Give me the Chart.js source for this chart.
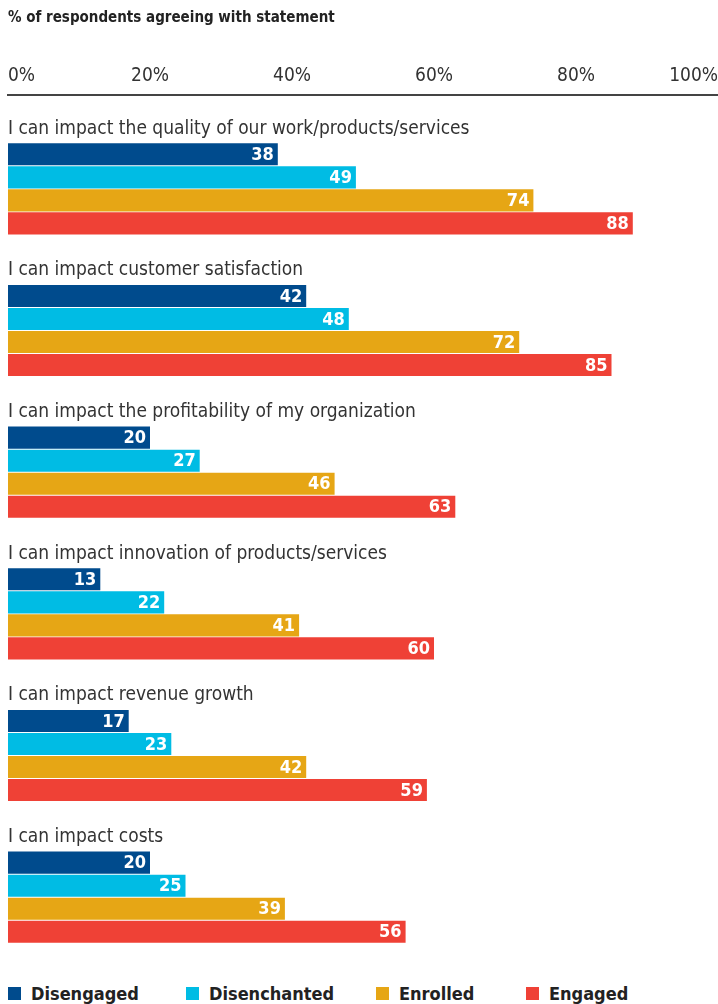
<!DOCTYPE html>
<html>
<head>
<meta charset="utf-8">
<script src="https://cdn.jsdelivr.net/npm/chart.js@4.4.1/dist/chart.umd.min.js"></script>
<style>
  body { margin: 0; background: #fff; width: 718px; height: 1004px; overflow: hidden; }
  #wrap { position: relative; width: 718px; height: 960px; }
  .legend { position: absolute; top: 983px; left: 8px; display: flex; align-items: center;
            font: bold 18px "Liberation Sans Narrow", "DejaVu Sans Condensed", "Roboto Condensed", Roboto, sans-serif; color: #222; }
  .legend span.box { display: inline-block; width: 13px; height: 13px; margin-right: 10px; }
  .legend .item { display: flex; align-items: center; }
</style>
</head>
<body>
<div id="wrap"><canvas id="chart"></canvas></div>
<div class="legend" id="legend"></div>
<script>
const FONT = '"Liberation Sans Narrow", "DejaVu Sans Condensed", "Roboto Condensed", Roboto, sans-serif';

const statements = [
  'I can impact the quality of our work/products/services',
  'I can impact customer satisfaction',
  'I can impact the profitability of my organization',
  'I can impact innovation of products/services',
  'I can impact revenue growth',
  'I can impact costs'
];
const seriesNames = ['Disengaged', 'Disenchanted', 'Enrolled', 'Engaged'];
const seriesColors = ['#004b8d', '#00bce4', '#e6a615', '#ef4136'];
const disengaged = [38, 42, 20, 13, 17, 20];
const disenchanted = [49, 48, 27, 22, 23, 25];
const enrolled = [74, 72, 46, 41, 42, 39];
const engaged = [88, 85, 63, 60, 59, 56];
const tickValues = [0, 20, 40, 60, 80, 100];

const seriesValues = [disengaged, disenchanted, enrolled, engaged];
// legend item widths, so the keys sit where the original has them
const legendWidths = [178, 190, 150, 120];

// two empty slots above each group leave room for the statement text
const spacer = () => ({
  spacer: true,
  data: statements.map(() => null),
  backgroundColor: 'transparent',
  barPercentage: 0.96,
  categoryPercentage: 0.975
});

const datasets = [spacer(), spacer()].concat(seriesValues.map((vals, i) => ({
  label: seriesNames[i],
  data: vals,
  backgroundColor: seriesColors[i],
  barPercentage: 0.96,
  categoryPercentage: 0.975
})));

const barLabels = {
  id: 'barLabels',
  afterDatasetsDraw(chart) {
    const ctx = chart.ctx;
    ctx.save();
    ctx.font = 'bold 18px ' + FONT;
    ctx.fillStyle = '#fff';
    ctx.textAlign = 'right';
    ctx.textBaseline = 'middle';
    chart.data.datasets.forEach((ds, di) => {
      if (ds.spacer) return;
      chart.getDatasetMeta(di).data.forEach((bar, i) => {
        ctx.fillText(ds.data[i], bar.x - 4, bar.y + 1);
      });
    });
    ctx.restore();
  }
};

const groupLabels = {
  id: 'groupLabels',
  afterDraw(chart) {
    const ctx = chart.ctx;
    const y = chart.scales.y;
    ctx.save();
    ctx.font = '19px ' + FONT;
    ctx.fillStyle = '#333';
    ctx.textAlign = 'left';
    ctx.textBaseline = 'middle';
    statements.forEach((s, i) => {
      ctx.fillText(s, chart.chartArea.left, y.getPixelForValue(i) - 37);
    });
    ctx.restore();
  }
};

new Chart(document.getElementById('chart'), {
  type: 'bar',
  data: { labels: statements, datasets: datasets },
  options: {
    indexAxis: 'y',
    responsive: true,
    maintainAspectRatio: false,
    animation: false,
    layout: { padding: { left: 8, right: 0, top: 0, bottom: 15 } },
    plugins: {
      legend: { display: false },
      tooltip: { enabled: false },
      title: {
        display: true,
        text: '% of respondents agreeing with statement',
        align: 'start',
        color: '#222',
        font: { family: FONT, size: 15, weight: 'bold' },
        padding: { top: 9, bottom: 30 }
      }
    },
    scales: {
      x: {
        position: 'top',
        min: 0,
        max: 100,
        afterBuildTicks: (scale) => { scale.ticks = tickValues.map(v => ({ value: v })); },
        grid: { display: false, drawTicks: false },
        border: { display: true, color: '#444', width: 2 },
        ticks: {
          align: 'inner',
          padding: 0,
          color: '#333',
          font: { family: FONT, size: 19, lineHeight: 2 },
          callback: (v) => v + '%'
        }
      },
      y: { display: false }
    }
  },
  plugins: [barLabels, groupLabels]
});

document.getElementById('legend').innerHTML = seriesNames.map((n, i) =>
  `<div class="item" style="width:${legendWidths[i]}px"><span class="box" style="background:${seriesColors[i]}"></span>${n}</div>`
).join('');
</script>
</body>
</html>
